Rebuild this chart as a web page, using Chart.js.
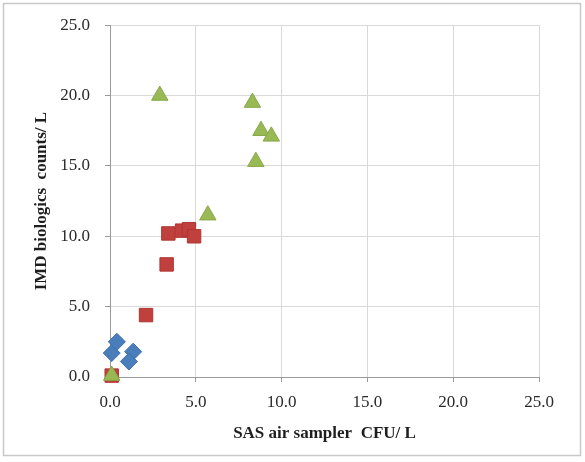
<!DOCTYPE html>
<html>
<head>
<meta charset="utf-8">
<script src="https://cdn.jsdelivr.net/npm/chart.js@4/dist/chart.umd.min.js"></script>
<style>
  html, body { margin: 0; padding: 0; background: #ffffff; }
  #wrap { width: 585px; height: 462px; position: relative; }
</style>
</head>
<body>
<div id="wrap"><canvas id="c" width="585" height="462"></canvas></div>
<script>
// Data
const blueX = [0.1, 0.4, 1.35, 1.1];
const blueY = [1.7, 2.5, 1.8, 1.1];
const redX = [0.1, 2.1, 3.3, 3.4, 4.2, 4.6, 4.9];
const redY = [0.1, 4.4, 8.0, 10.2, 10.4, 10.5, 10.0];
const greenX = [0.1, 2.9, 8.3, 8.8, 9.4, 8.5, 5.7];
const greenY = [0.1, 20.0, 19.5, 17.5, 17.1, 15.3, 11.5];
const xTitle = 'SAS air sampler  CFU/ L';
const yTitle = 'IMD biologics  counts/ L';

const toPts = (xs, ys) => xs.map((x, i) => ({ x: x, y: ys[i] }));

const framePlugin = {
  id: 'frame',
  beforeDraw(chart) {
    const ctx = chart.ctx;
    ctx.save();
    ctx.fillStyle = '#ffffff';
    ctx.fillRect(0, 0, chart.width, chart.height);
    ctx.strokeStyle = '#c8c8c8';
    ctx.lineWidth = 1.5;
    ctx.strokeRect(3.5, 3.5, 577, 452);
    ctx.restore();
  }
};

const tickFont = { family: '"Liberation Serif", "Times New Roman", serif', size: 17 };
const titleFont = { family: '"Liberation Serif", "Times New Roman", serif', size: 17, weight: 'bold' };

new Chart(document.getElementById('c'), {
  type: 'scatter',
  data: {
    datasets: [
      {
        label: 'C',
        data: toPts(greenX, greenY),
        pointStyle: 'triangle',
        pointRadius: 9.5,
        backgroundColor: '#98b954',
        borderColor: '#89a84a',
        borderWidth: 1
      },
      {
        label: 'B',
        data: toPts(redX, redY),
        pointStyle: 'rect',
        pointRadius: 9.5,
        backgroundColor: '#c0403d',
        borderColor: '#b03533',
        borderWidth: 1
      },
      {
        label: 'A',
        data: toPts(blueX, blueY),
        pointStyle: 'rectRot',
        pointRadius: 8.5,
        backgroundColor: '#4a7ebb',
        borderColor: '#3d6fb0',
        borderWidth: 1
      }
    ]
  },
  options: {
    responsive: false,
    animation: false,
    devicePixelRatio: 1,
    clip: false,
    layout: { padding: { left: 27, right: 46, top: 25, bottom: 14 } },
    plugins: {
      legend: { display: false },
      tooltip: { enabled: false }
    },
    scales: {
      x: {
        type: 'linear',
        min: 0,
        max: 25,
        ticks: {
          stepSize: 5,
          color: '#2a2a2a',
          font: tickFont,
          padding: 10,
          callback: v => Number(v).toFixed(1)
        },
        grid: { color: '#d9d9d9', tickColor: '#9a9a9a', tickLength: 5, lineWidth: 1 },
        border: { color: '#9a9a9a', width: 1 },
        title: { display: true, text: xTitle, color: '#1e1e1e', font: titleFont, padding: { top: 4, bottom: 4 } },
        afterFit(scale) { scale.height = 71; }
      },
      y: {
        type: 'linear',
        min: 0,
        max: 25,
        ticks: {
          stepSize: 5,
          color: '#2a2a2a',
          font: tickFont,
          padding: 15,
          callback: v => Number(v).toFixed(1)
        },
        grid: { color: '#d9d9d9', tickColor: '#9a9a9a', tickLength: 5, lineWidth: 1 },
        border: { color: '#9a9a9a', width: 1 },
        title: { display: true, text: yTitle, color: '#1e1e1e', font: titleFont, padding: { top: 4, bottom: 4 } },
        afterFit(scale) { scale.width = 83; }
      }
    }
  },
  plugins: [framePlugin]
});
</script>
</body>
</html>
